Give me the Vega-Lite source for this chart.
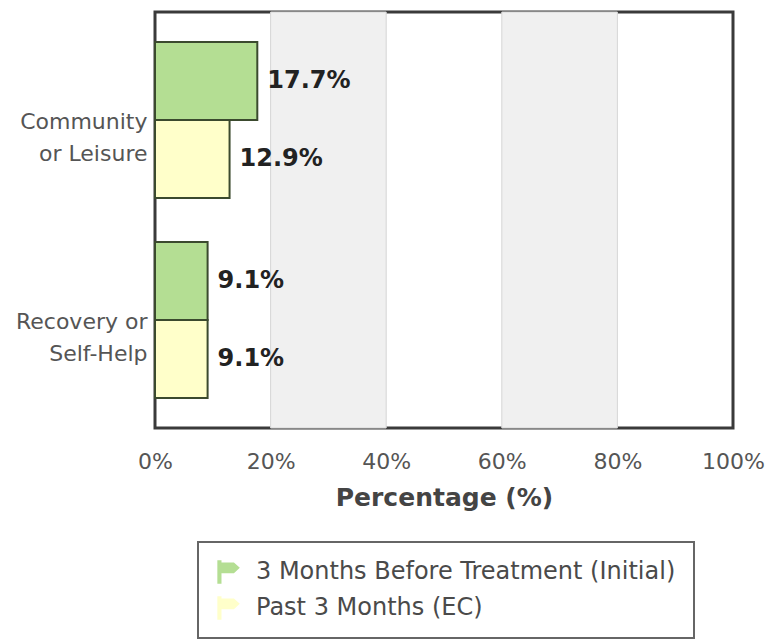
{
  "$schema": "https://vega.github.io/schema/vega-lite/v6.json",
  "width": 578,
  "height": 416,
  "autosize": {"type": "none"},
  "padding": {"left": 155, "top": 12, "right": 33, "bottom": 211},
  "background": "#ffffff",
  "config": {
    "font": "DejaVu Sans",
    "view": {"stroke": "#3a3a3a", "strokeWidth": 3},
    "legend": {"strokeColor": "#666666", "strokeWidth": 2}
  },
  "datasets": {
    "bands": [
      {"from": 20, "to": 40},
      {"from": 60, "to": 80}
    ],
    "rates": [
      {"activity": "Community or Leisure", "period": "3 Months Before Treatment (Initial)", "pct": 17.7},
      {"activity": "Community or Leisure", "period": "Past 3 Months (EC)", "pct": 12.9},
      {"activity": "Recovery or Self-Help", "period": "3 Months Before Treatment (Initial)", "pct": 9.1},
      {"activity": "Recovery or Self-Help", "period": "Past 3 Months (EC)", "pct": 9.1}
    ]
  },
  "layer": [
    {
      "data": {"name": "bands"},
      "mark": {"type": "rect", "fill": "#f0f0f0", "stroke": "#d6d6d6", "strokeWidth": 1},
      "encoding": {
        "x": {"field": "from", "type": "quantitative", "scale": {"domain": [0, 100], "nice": false}},
        "x2": {"field": "to"}
      }
    },
    {
      "data": {"name": "rates"},
      "mark": {"type": "bar", "stroke": "#3b4a2e", "strokeWidth": 2},
      "encoding": {
        "y": {
          "field": "activity",
          "type": "nominal",
          "sort": null,
          "scale": {"paddingInner": 0.22, "paddingOuter": 0.15},
          "axis": {
            "title": null,
            "domain": false,
            "ticks": false,
            "labelFontSize": 22,
            "labelLineHeight": 32,
            "labelColor": "#555555",
            "labelPadding": 8,
            "labelOffset": 2,
            "labelExpr": "datum.value == 'Community or Leisure' ? ['Community', 'or Leisure'] : ['Recovery or', 'Self-Help']"
          }
        },
        "yOffset": {"field": "period", "type": "nominal", "sort": null},
        "x": {
          "field": "pct",
          "type": "quantitative",
          "scale": {"domain": [0, 100], "nice": false},
          "axis": {
            "title": "Percentage (%)",
            "values": [0, 20, 40, 60, 80, 100],
            "grid": false,
            "domain": false,
            "ticks": false,
            "labelFlush": false,
            "labelOverlap": false,
            "labelFontSize": 22,
            "labelColor": "#555555",
            "labelPadding": 23,
            "labelExpr": "datum.value + '%'",
            "titleFontSize": 25,
            "titleFontWeight": "bold",
            "titleColor": "#444444",
            "titlePadding": 13
          }
        },
        "fill": {
          "field": "period",
          "type": "nominal",
          "sort": null,
          "scale": {"range": ["#b4de93", "#ffffca"]},
          "legend": {
            "title": null,
            "orient": "none",
            "legendX": 43,
            "legendY": 530,
            "direction": "vertical",
            "fillColor": "#ffffff",
            "padding": 18,
            "rowPadding": 12,
            "labelFontSize": 24,
            "labelLimit": 0,
            "labelColor": "#4a4a4a",
            "labelOffset": 16,
            "symbolType": "M-0.9,-1H-0.55V1H-0.9Z M-0.55,-0.8H0.5L1,-0.35L0.5,0.1H-0.55Z",
            "symbolSize": 560,
            "symbolStrokeWidth": 0
          }
        }
      }
    },
    {
      "data": {"name": "rates"},
      "transform": [{"calculate": "format(datum.pct, '.1f') + '%'", "as": "pctLabel"}],
      "mark": {"type": "text", "align": "left", "baseline": "middle", "dx": 10, "fontSize": 24, "fontWeight": "bold", "color": "#222222"},
      "encoding": {
        "y": {"field": "activity", "type": "nominal", "sort": null},
        "yOffset": {"field": "period", "type": "nominal", "sort": null},
        "x": {"field": "pct", "type": "quantitative"},
        "text": {"field": "pctLabel"}
      }
    }
  ]
}
